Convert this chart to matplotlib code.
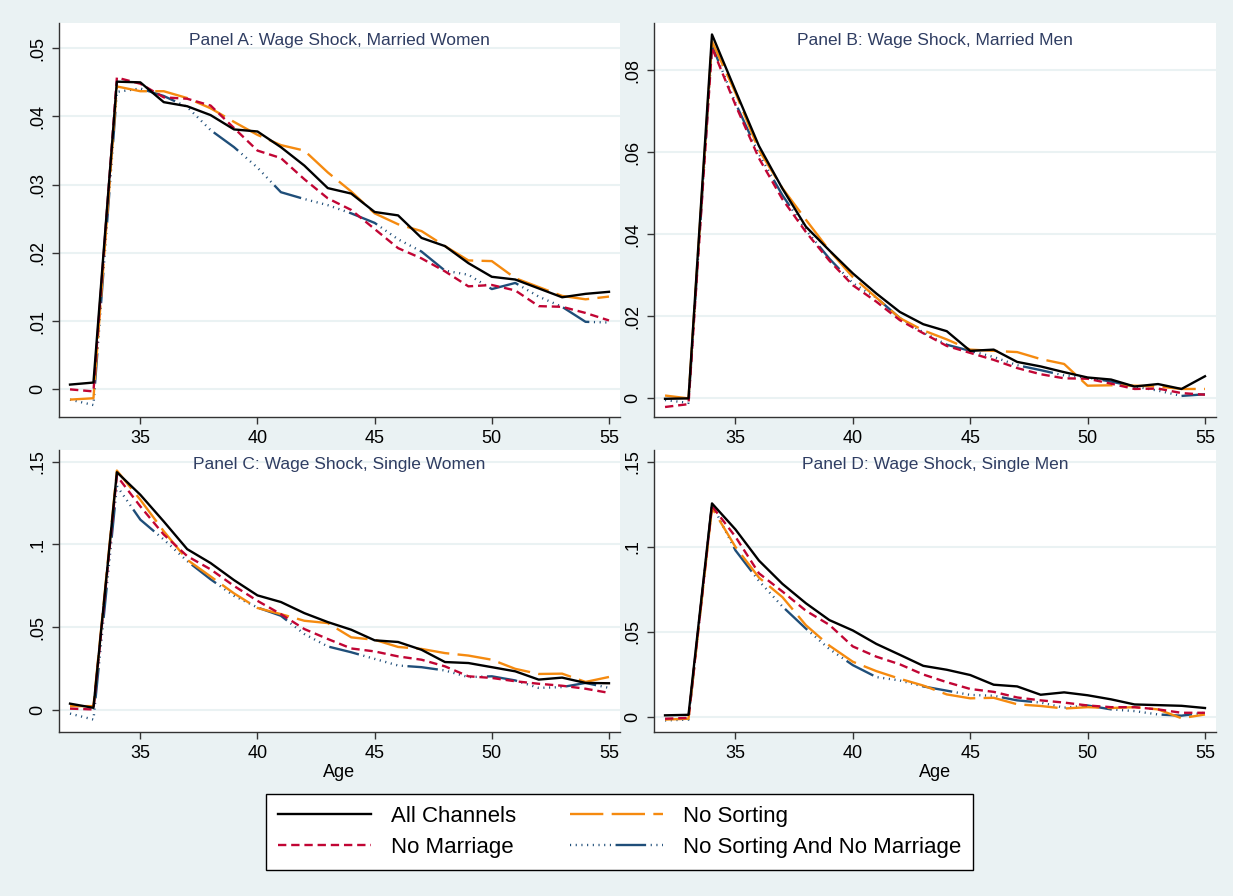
import matplotlib
matplotlib.use("Agg")
import matplotlib.pyplot as plt

plt.rcParams['font.family'] = ['Liberation Sans', 'DejaVu Sans']
plt.rcParams['lines.scale_dashes'] = False

ages = [32, 33, 34, 35, 36, 37, 38, 39, 40, 41, 42, 43,
        44, 45, 46, 47, 48, 49, 50, 51, 52, 53, 54, 55]

# Panel A: married women
a_all = [0.0007, 0.0010, 0.0451, 0.0450, 0.0421, 0.0415, 0.0402, 0.0381, 0.0378, 0.0355, 0.0328, 0.0295,
         0.0287, 0.0260, 0.0255, 0.0222, 0.0210, 0.0185, 0.0165, 0.0161, 0.0148, 0.0135, 0.0140, 0.0143]
a_nosort = [-0.0015, -0.0013, 0.0444, 0.0437, 0.0437, 0.0427, 0.0412, 0.0392, 0.0373, 0.0358, 0.0350, 0.0318,
            0.0290, 0.0258, 0.0242, 0.0232, 0.0210, 0.0189, 0.0188, 0.0163, 0.0150, 0.0137, 0.0132, 0.0136]
a_nomarr = [0.0000, -0.0003, 0.0457, 0.0448, 0.0428, 0.0426, 0.0416, 0.0383, 0.0350, 0.0339, 0.0308, 0.0280,
            0.0263, 0.0235, 0.0207, 0.0192, 0.0173, 0.0151, 0.0153, 0.0145, 0.0122, 0.0121, 0.0112, 0.0101]
a_both = [-0.0015, -0.0023, 0.0436, 0.0441, 0.0430, 0.0414, 0.0380, 0.0355, 0.0325, 0.0289, 0.0279, 0.0270,
          0.0258, 0.0244, 0.0220, 0.0202, 0.0174, 0.0168, 0.0147, 0.0156, 0.0136, 0.0121, 0.0099, 0.0098]

# Panel B: married men
b_all = [-0.0002, -0.0001, 0.0887, 0.0750, 0.0615, 0.0511, 0.0418, 0.0360, 0.0304, 0.0255, 0.0210, 0.0180,
         0.0163, 0.0115, 0.0118, 0.0088, 0.0077, 0.0063, 0.0050, 0.0045, 0.0028, 0.0034, 0.0022, 0.0053]
b_nosort = [0.0006, -0.0001, 0.0870, 0.0745, 0.0605, 0.0512, 0.0435, 0.0360, 0.0295, 0.0245, 0.0195, 0.0165,
            0.0143, 0.0118, 0.0115, 0.0112, 0.0095, 0.0083, 0.0030, 0.0031, 0.0030, 0.0028, 0.0022, 0.0022]
b_nomarr = [-0.0022, -0.0015, 0.0855, 0.0715, 0.0585, 0.0485, 0.0405, 0.0335, 0.0275, 0.0235, 0.0190, 0.0158,
            0.0127, 0.0110, 0.0093, 0.0073, 0.0058, 0.0048, 0.0047, 0.0035, 0.0022, 0.0023, 0.0012, 0.0008]
b_both = [-0.0005, -0.0012, 0.0860, 0.0720, 0.0595, 0.0495, 0.0410, 0.0340, 0.0280, 0.0245, 0.0195, 0.0160,
          0.0130, 0.0115, 0.0100, 0.0080, 0.0068, 0.0055, 0.0050, 0.0040, 0.0028, 0.0018, 0.0005, 0.0009]

# Panel C: single women
c_all = [0.0040, 0.0015, 0.1436, 0.1300, 0.1139, 0.0972, 0.0888, 0.0785, 0.0693, 0.0653, 0.0586, 0.0532,
         0.0486, 0.0422, 0.0412, 0.0365, 0.0291, 0.0285, 0.0260, 0.0235, 0.0185, 0.0197, 0.0165, 0.0163]
c_nosort = [0.0025, 0.0025, 0.1446, 0.1270, 0.1080, 0.0908, 0.0807, 0.0705, 0.0617, 0.0580, 0.0540, 0.0526,
            0.0440, 0.0425, 0.0382, 0.0370, 0.0345, 0.0330, 0.0305, 0.0250, 0.0219, 0.0221, 0.0171, 0.0201]
c_nomarr = [0.0010, 0.0005, 0.1414, 0.1230, 0.1060, 0.0930, 0.0850, 0.0750, 0.0660, 0.0580, 0.0490, 0.0430,
            0.0373, 0.0355, 0.0325, 0.0305, 0.0265, 0.0205, 0.0195, 0.0175, 0.0160, 0.0148, 0.0130, 0.0105]
c_both = [-0.0020, -0.0056, 0.1353, 0.1150, 0.1030, 0.0900, 0.0790, 0.0690, 0.0620, 0.0570, 0.0460, 0.0385,
          0.0350, 0.0310, 0.0270, 0.0260, 0.0240, 0.0200, 0.0205, 0.0180, 0.0135, 0.0140, 0.0165, 0.0135]

# Panel D: single men
d_all = [0.0010, 0.0013, 0.1256, 0.1103, 0.0920, 0.0783, 0.0669, 0.0570, 0.0509, 0.0430, 0.0366, 0.0301,
         0.0278, 0.0247, 0.0190, 0.0180, 0.0131, 0.0145, 0.0128, 0.0104, 0.0074, 0.0070, 0.0066, 0.0053]
d_nosort = [-0.0015, -0.0010, 0.1230, 0.1000, 0.0820, 0.0705, 0.0540, 0.0420, 0.0325, 0.0270, 0.0225, 0.0185,
            0.0133, 0.0110, 0.0113, 0.0075, 0.0065, 0.0050, 0.0058, 0.0053, 0.0058, 0.0045, -0.0007, 0.0015]
d_nomarr = [-0.0010, -0.0005, 0.1240, 0.1060, 0.0845, 0.0738, 0.0625, 0.0542, 0.0415, 0.0355, 0.0310, 0.0250,
            0.0205, 0.0165, 0.0148, 0.0115, 0.0098, 0.0085, 0.0068, 0.0058, 0.0058, 0.0045, 0.0025, 0.0025]
d_both = [-0.0020, -0.0015, 0.1250, 0.0980, 0.0800, 0.0650, 0.0520, 0.0400, 0.0305, 0.0235, 0.0215, 0.0180,
          0.0155, 0.0130, 0.0125, 0.0098, 0.0085, 0.0055, 0.0068, 0.0045, 0.0035, 0.0015, 0.0008, 0.0025]

titles = ["Panel A: Wage Shock, Married Women", "Panel B: Wage Shock, Married Men",
          "Panel C: Wage Shock, Single Women", "Panel D: Wage Shock, Single Men"]
series_names = ["All Channels", "No Sorting", "No Marriage", "No Sorting And No Marriage"]

a_yticks = [0, 0.01, 0.02, 0.03, 0.04, 0.05]
a_ylabels = ["0", ".01", ".02", ".03", ".04", ".05"]
b_yticks = [0, 0.02, 0.04, 0.06, 0.08]
b_ylabels = ["0", ".02", ".04", ".06", ".08"]
cd_yticks = [0, 0.05, 0.1, 0.15]
cd_ylabels = ["0", ".05", ".1", ".15"]
xticks = [35, 40, 45, 50, 55]

BG = "#eaf2f3"
TITLE_C = "#2f3d62"
styles = [
    dict(color="black", linestyle="-", zorder=4),
    dict(color="#f58a0f", linestyle=(0, (24, 6)), zorder=3),
    dict(color="#c10534", linestyle=(0, (6, 3.5)), zorder=3.5),
    dict(color="#1f4e79", linestyle=(0, (0.8, 3.3) * 8 + (22, 3.3)), zorder=2),
]

fig = plt.figure(figsize=(12.33, 8.96), dpi=100, facecolor=BG)

W, H = 1233, 896
def px_axes(x0, y0, x1, y1):
    return fig.add_axes([x0 / W, 1 - y1 / H, (x1 - x0) / W, (y1 - y0) / H])

panels = [
    (px_axes(59, 23, 620, 417), [a_all, a_nosort, a_nomarr, a_both], (-0.00405, 0.0537), a_yticks, a_ylabels, False),
    (px_axes(654, 23, 1216, 417), [b_all, b_nosort, b_nomarr, b_both], (-0.00464, 0.0915), b_yticks, b_ylabels, False),
    (px_axes(59, 450, 620, 732), [c_all, c_nosort, c_nomarr, c_both], (-0.0131, 0.157), cd_yticks, cd_ylabels, True),
    (px_axes(654, 450, 1216, 732), [d_all, d_nosort, d_nomarr, d_both], (-0.0088, 0.157), cd_yticks, cd_ylabels, True),
]

handles = []
for i, (ax, data, ylim, yt, yl, show_age) in enumerate(panels):
    ax.set_facecolor("white")
    lines = []
    for vals, st, name in zip(data, styles, series_names):
        ln, = ax.plot(ages, vals, linewidth=1.7, label=name, **st)
        lines.append(ln)
    if i == 0:
        handles = lines
    ax.set_xlim(31.53, 55.47)
    ax.set_ylim(*ylim)
    ax.set_xticks(xticks)
    ax.set_yticks(yt)
    ax.set_yticklabels(yl, rotation=90, va="center")
    ax.tick_params(labelsize=13, length=5, width=1, color="#333333", pad=4)
    ax.grid(axis="y", color=BG, linewidth=1.5)
    ax.set_axisbelow(True)
    for s in ["top", "right"]:
        ax.spines[s].set_visible(False)
    for s in ["left", "bottom"]:
        ax.spines[s].set_color("#333333")
        ax.spines[s].set_linewidth(1)
    ax.text(0.5, 0.975, titles[i], transform=ax.transAxes, ha="center", va="top",
            fontsize=12.5, color=TITLE_C)
    if show_age:
        ax.set_xlabel("Age", fontsize=13, labelpad=2)

# row-major order as in the original legend
order = [handles[0], handles[2], handles[1], handles[3]]
leg = fig.legend(order, [h.get_label() for h in order], ncol=2, loc="center",
                 bbox_to_anchor=(619.5 / W, 1 - 832 / H), fontsize=16, frameon=True,
                 fancybox=False, edgecolor="black", facecolor="white", framealpha=1,
                 handlelength=4.2, handletextpad=0.9, columnspacing=2.4,
                 borderpad=0.55, labelspacing=0.45)
leg.get_frame().set_linewidth(1)

fig.savefig("out.png", dpi=100, facecolor=BG)
